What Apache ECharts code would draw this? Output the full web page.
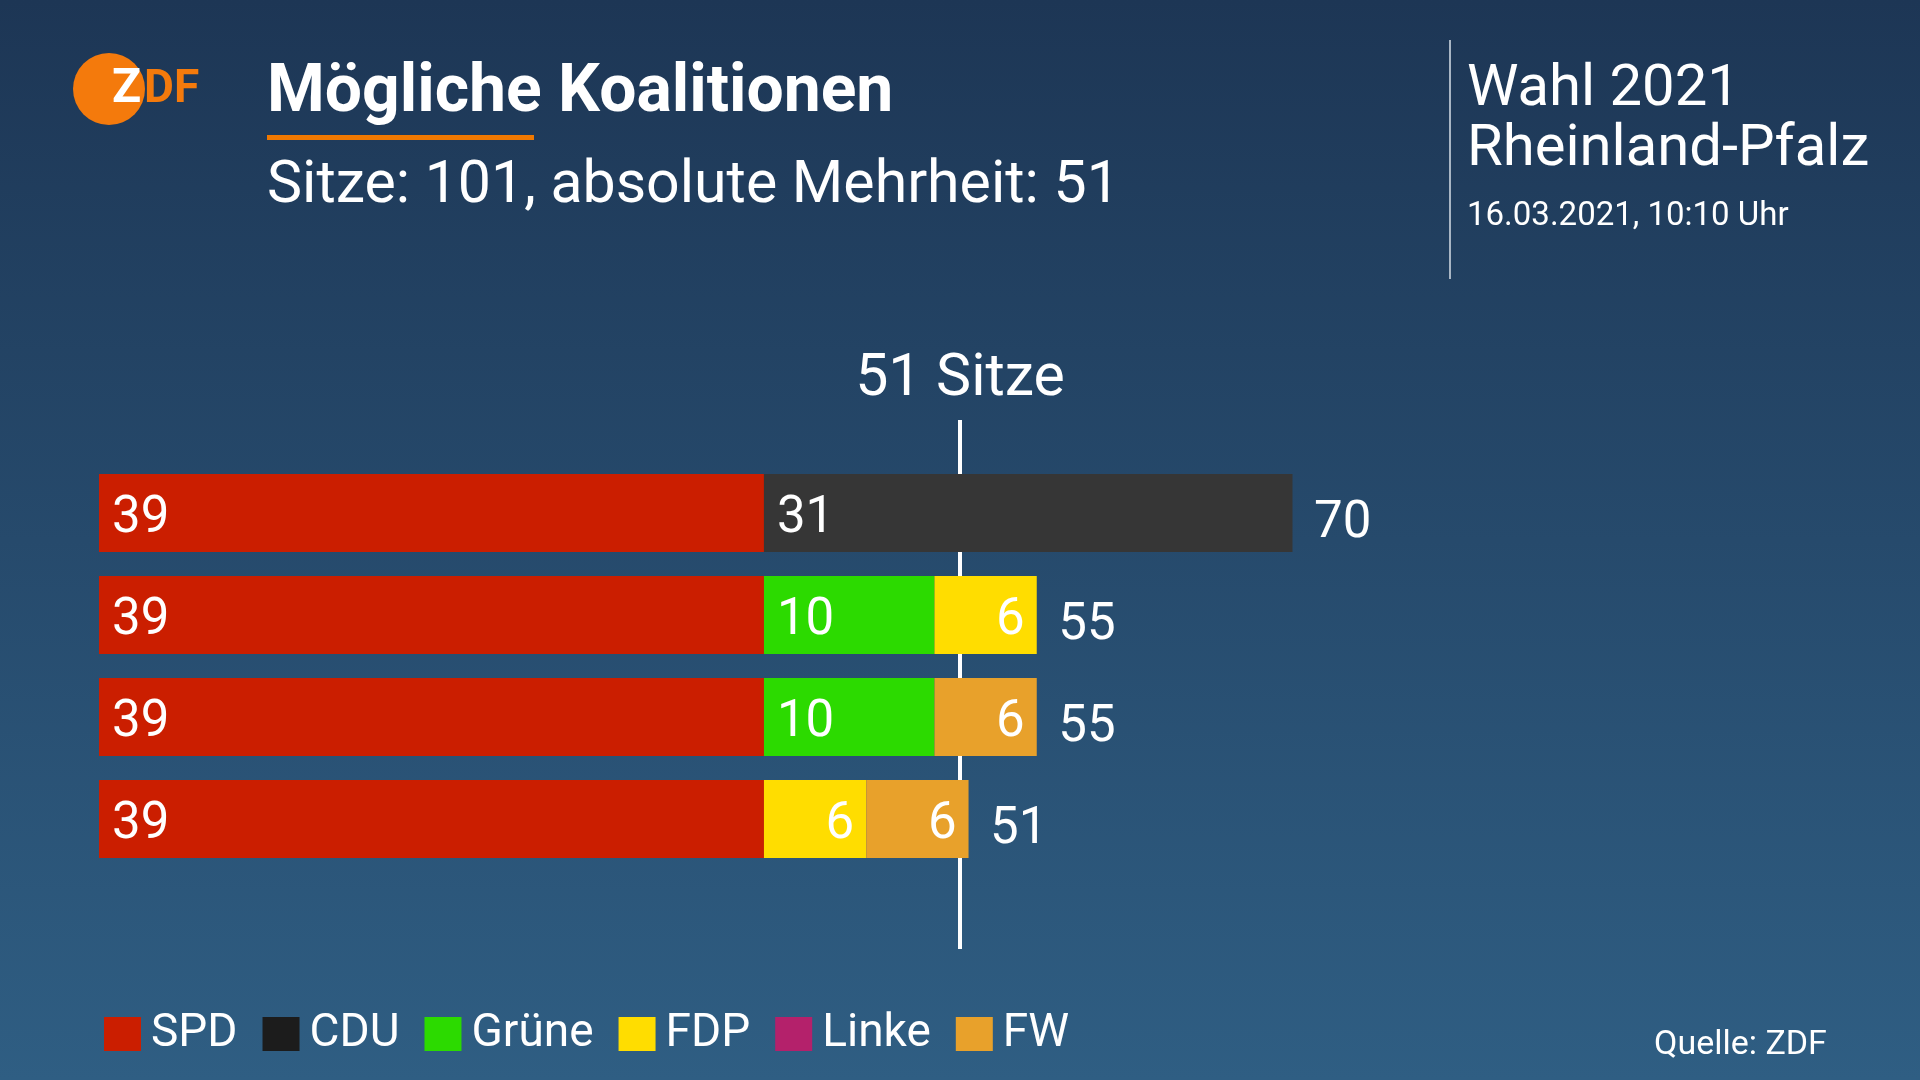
<!DOCTYPE html>
<html>
<head>
<meta charset="utf-8">
<script src="https://cdn.jsdelivr.net/npm/echarts@6/dist/echarts.min.js"></script>
<style>
html,body{margin:0;padding:0;background:#1e3a5b;}
#chart{width:1920px;height:1080px;}
</style>
</head>
<body>
<div id="chart"></div>
<script>
const categories = ['SPD + CDU', 'SPD + Grüne + FDP', 'SPD + Grüne + FW', 'SPD + FDP + FW'];
const spd    = [39, 39, 39, 39];
const cdu    = [31, '-', '-', '-'];
const gruene = ['-', 10, 10, '-'];
const fdp    = ['-', 6, '-', 6];
const linke  = ['-', '-', '-', '-'];
const fw     = ['-', '-', 6, 6];
const totals = [70, 55, 55, 51];
const majorityValue = 50.5;
const majorityLabel = '51 Sitze';
const partyNames = ['SPD', 'CDU', 'Grüne', 'FDP', 'Linke', 'FW'];

const FONT = 'Roboto';
const chart = echarts.init(document.getElementById('chart'));

function barSeries(name, data, color, pos) {
  return {
    name: name, type: 'bar', stack: 'k', data: data, barWidth: 78, z: 2,
    itemStyle: { color: color },
    label: {
      show: true, position: pos, distance: pos === 'insideLeft' ? 13 : 12, offset: [0, 6],
      color: '#ffffff', fontFamily: FONT, fontSize: 51
    }
  };
}

const option = {
  backgroundColor: {
    type: 'linear', x: 0, y: 0, x2: 0, y2: 1,
    colorStops: [{ offset: 0, color: '#1d3655' }, { offset: 1, color: '#2f5e83' }]
  },
  animation: false,
  grid: { left: 99, right: 116, top: 462, bottom: 210, containLabel: false },
  xAxis: { type: 'value', min: 0, max: 100, show: false },
  yAxis: { type: 'category', data: categories, inverse: true, show: false },
  legend: {
    left: 104, top: 1011, padding: 0, icon: 'rect', itemWidth: 37, itemHeight: 34, itemGap: 25,
    selectedMode: false,
    textStyle: { color: '#ffffff', fontFamily: FONT, fontSize: 46, padding: [0, 0, 0, 5] },
    data: [
      { name: 'SPD' },
      { name: 'CDU', itemStyle: { color: '#1c1c1c' } },
      { name: 'Grüne' },
      { name: 'FDP' },
      { name: 'Linke' },
      { name: 'FW' }
    ]
  },
  series: [
    barSeries(partyNames[0], spd, '#cb1e00', 'insideLeft'),
    barSeries(partyNames[1], cdu, '#363636', 'insideLeft'),
    barSeries(partyNames[2], gruene, '#2cda00', 'insideLeft'),
    barSeries(partyNames[3], fdp, '#ffdd00', 'insideRight'),
    barSeries(partyNames[4], linke, '#b4216b', 'insideRight'),
    barSeries(partyNames[5], fw, '#e8a12b', 'insideRight'),
    {
      name: 'Summe', type: 'scatter', symbolSize: 1, z: 3,
      itemStyle: { color: 'rgba(0,0,0,0)', opacity: 1 },
      data: totals.map((v, i) => [v, categories[i]]),
      label: {
        show: true, position: 'right', distance: 21, offset: [0, 11],
        formatter: p => String(p.value[0]),
        color: '#ffffff', opacity: 1, fontFamily: FONT, fontSize: 51
      }
    },
    {
      name: 'Mehrheit', type: 'line', data: [], z: 1,
      markLine: {
        z: 1, silent: true, symbol: 'none',
        lineStyle: { color: '#ffffff', width: 4, type: 'solid', opacity: 1 },
        label: {
          show: true, position: 'start', distance: 10, formatter: majorityLabel,
          color: '#ffffff', fontFamily: FONT, fontSize: 59
        },
        data: [[{ xAxis: majorityValue, y: 420 }, { xAxis: majorityValue, y: 949 }]]
      }
    }
  ],
  graphic: [
    { type: 'circle', shape: { cx: 109, cy: 89, r: 36 }, style: { fill: '#f47a0c' } },
    { type: 'text', x: 112, y: 90, style: { text: 'Z', fill: '#ffffff', font: 'bold 48px Roboto', verticalAlign: 'middle' } },
    { type: 'text', x: 144, y: 90, style: { text: 'DF', fill: '#f47a0c', font: 'bold 46px Roboto', verticalAlign: 'middle' } },
    { type: 'text', x: 267, y: 94, style: { text: 'Mögliche Koalitionen', fill: '#ffffff', font: 'bold 66px Roboto', verticalAlign: 'middle' } },
    { type: 'rect', shape: { x: 267, y: 135, width: 267, height: 5 }, style: { fill: '#f07800' } },
    { type: 'text', x: 267, y: 187, style: { text: 'Sitze: 101, absolute Mehrheit: 51', fill: '#ffffff', font: '59px Roboto', verticalAlign: 'middle' } },
    { type: 'rect', shape: { x: 1449, y: 40, width: 2, height: 239 }, style: { fill: '#a9b6c4' } },
    { type: 'text', x: 1467, y: 90, style: { text: 'Wahl 2021', fill: '#ffffff', font: '58px Roboto', verticalAlign: 'middle' } },
    { type: 'text', x: 1467, y: 150, style: { text: 'Rheinland-Pfalz', fill: '#ffffff', font: '58px Roboto', verticalAlign: 'middle' } },
    { type: 'text', x: 1467, y: 217, style: { text: '16.03.2021, 10:10 Uhr', fill: '#ffffff', font: '33px Roboto', verticalAlign: 'middle' } },
    { type: 'text', x: 1654, y: 1045, style: { text: 'Quelle: ZDF', fill: '#ffffff', font: '34px Roboto', verticalAlign: 'middle' } }
  ]
};
chart.setOption(option);
</script>
</body>
</html>
